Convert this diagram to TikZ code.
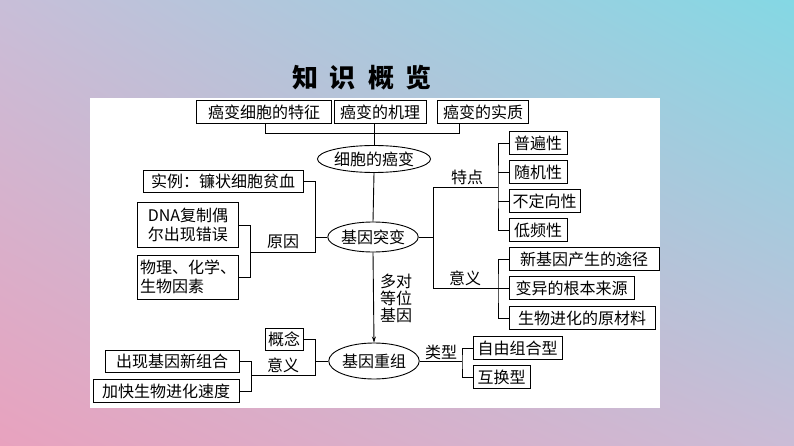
\documentclass[tikz,border=0pt]{standalone}
\usepackage{fontspec}
\newfontfamily\cjk{Noto Sans CJK SC}
\usetikzlibrary{shapes.geometric,arrows.meta,shadings}
\definecolor{ul}{HTML}{C8BED8}
\definecolor{ur}{HTML}{84D8E4}
\definecolor{ll}{HTML}{E8A2BE}
\definecolor{lr}{HTML}{CABCD6}
\begin{document}
\begin{tikzpicture}[x=1pt,y=-1pt,
 bx/.style={draw,line width=0.9pt,inner sep=0pt,minimum height=23pt,font=\cjk\fontsize{16}{18.5}\selectfont,align=center},
 el/.style={draw,ellipse,line width=0.9pt,inner sep=0pt,font=\cjk\fontsize{16}{18}\selectfont},
 lb/.style={inner sep=0pt,font=\cjk\fontsize{16}{17}\selectfont,align=center},
 ln/.style={line width=0.9pt}]
\useasboundingbox (0,0) rectangle (794,446);
\shade[upper left=ul,upper right=ur,lower left=ll,lower right=lr] (0,0) rectangle (794,446);
\fill[white] (90,98) rectangle (660,408);
\node[font=\cjk\bfseries\fontsize{26}{28}\selectfont] (title) at (362,78) {知\hspace{12pt}识\hspace{12pt}概\hspace{12pt}览};
% top
\node[bx,minimum width=135pt] (t1) at (264,112) {癌变细胞的特征};
\node[bx,minimum width=92pt] (t2) at (380,112) {癌变的机理};
\node[bx,minimum width=91pt] (t3) at (483,112) {癌变的实质};
\coordinate (tl) at (265,133); \coordinate (tr) at (459,133); \coordinate (tm) at (374,133);
\draw[ln] (t1.south -| tl) -- (tl) -- (tr) -- (t3.south -| tr);
\draw[ln] (t2.south -| tm) -- (tm);
\node[el,minimum width=106pt,minimum height=27pt] (ca) at (374,159) {细胞的癌变};
\draw[ln] (tm) -- (ca.north);
\node[el,minimum width=80pt,minimum height=30pt] (tb) at (373,237) {基因突变};
\draw[ln] (ca.south) -- (tb.north);
\node[el,minimum width=86pt,minimum height=36pt] (cz) at (374,361) {基因重组};
\draw[ln,-{Stealth[length=6pt,width=4pt]}] (tb.south) -- (cz.north);
\node[lb] (dd) at (396,298) {多对\\等位\\基因};
% left of tubian
\node[bx,minimum width=160pt,minimum height=22pt] (sl) at (223,181) {实例：镰状细胞贫血};
\node[bx,minimum width=101pt,minimum height=45pt,align=left] (dna) at (188,225) {DNA复制偶\\尔出现错误};
\node[bx,minimum width=101pt,minimum height=44pt,align=left] (wl) at (188,277) {物理、化学、\\生物因素};
\coordinate (a1) at (315,237); \coordinate (a2) at (315,252); \coordinate (a3) at (250,252);
\draw[ln] (tb.west) -- (a1);
\draw[ln] (sl.east) -| (a2) -- (a3);
\draw[ln] (dna.east) -| (a3);
\draw[ln] (wl.east) -| (a3);
\node[lb] (yy) at (283,242) {原因};
% left of chongzu
\node[bx,minimum width=38pt,minimum height=22pt] (gn) at (284,339) {概念};
\node[bx,minimum width=134pt,minimum height=22pt] (cx) at (172,361) {出现基因新组合};
\node[bx,minimum width=146pt,minimum height=23pt] (jk) at (166,391) {加快生物进化速度};
\coordinate (b1) at (315,361); \coordinate (b2) at (315,375); \coordinate (b3) at (251,375);
\draw[ln] (cz.west) -- (b1);
\draw[ln] (gn.east) -| (b2) -- (b3);
\draw[ln] (cx.east) -| (b3);
\draw[ln] (jk.east) -| (b3);
\node[lb] (yy2) at (283,365) {意义};
% right of tubian
\node[bx,minimum width=58pt] (p1) at (538,143) {普遍性};
\node[bx,minimum width=58pt] (p2) at (538,172) {随机性};
\node[bx,minimum width=71pt] (p3) at (544.5,201) {不定向性};
\node[bx,minimum width=58pt] (p4) at (538,230) {低频性};
\node[bx,minimum width=150pt] (m1) at (584,259) {新基因产生的途径};
\node[bx,minimum width=125pt] (m2) at (571.5,288) {变异的根本来源};
\node[bx,minimum width=146pt] (m3) at (582,318) {生物进化的原材料};
\coordinate (c1) at (433,237); \coordinate (c2) at (433,187); \coordinate (c3) at (433,288);
\coordinate (d1) at (498,187); \coordinate (d2) at (498,288);
\draw[ln] (tb.east) -- (c1);
\draw[ln] (d1) -- (c2) -- (c3) -- (d2);
\draw[ln] (p1.west) -| (d1) |- (p4.west);
\draw[ln] (p2.west) -- (p2.west -| d1);
\draw[ln] (p3.west) -- (p3.west -| d1);
\draw[ln] (m1.west) -| (d2) |- (m3.west);
\draw[ln] (m2.west) -- (d2);
\node[lb] (td) at (467,177) {特点};
\node[lb] (yy3) at (465,278) {意义};
% right of chongzu
\node[bx,minimum width=89pt] (z1) at (517.5,348) {自由组合型};
\node[bx,minimum width=57pt] (z2) at (501.5,377) {互换型};
\coordinate (e1) at (462,361);
\draw[ln] (cz.east) -- (e1);
\draw[ln] (z1.west) -| (e1) |- (z2.west);
\node[lb] (lx) at (441,352) {类型};
\end{tikzpicture}
\end{document}
